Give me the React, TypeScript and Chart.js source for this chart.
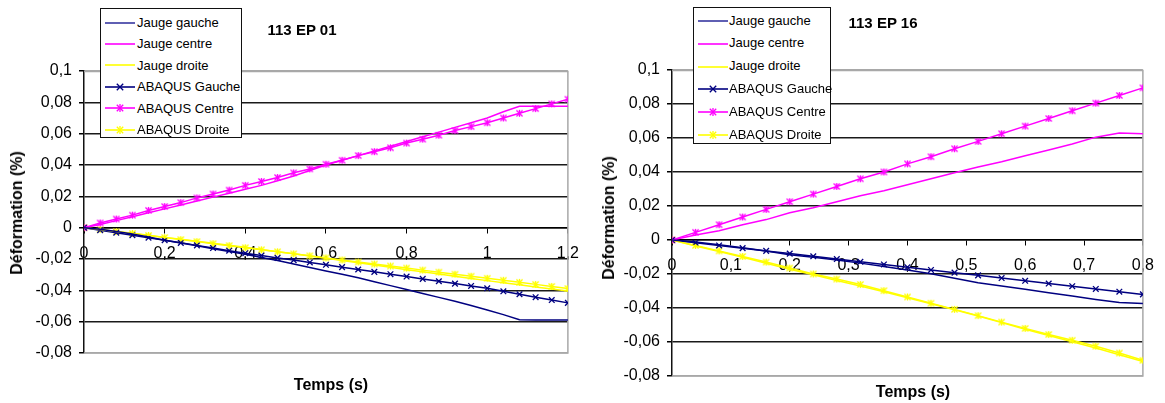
import React, { useEffect, useRef } from "react";
import { Chart, registerables } from "chart.js";
Chart.register(...registerables);

// ---------- data: 113 EP 01 ----------
const timeL = [0, 0.04, 0.08, 0.12, 0.16, 0.2, 0.24, 0.28, 0.32, 0.36, 0.4, 0.44, 0.48, 0.52, 0.56, 0.6, 0.64, 0.68, 0.72, 0.76, 0.8, 0.84, 0.88, 0.92, 0.96, 1.0, 1.04, 1.08, 1.12, 1.16, 1.2];
const jaugeGaucheL = [0, -0.001, -0.0025, -0.004, -0.006, -0.008, -0.0098, -0.0116, -0.0134, -0.0152, -0.017, -0.019, -0.021, -0.0232, -0.0254, -0.0276, -0.0298, -0.032, -0.0345, -0.037, -0.0395, -0.042, -0.0445, -0.047, -0.0497, -0.0525, -0.0555, -0.0588, -0.059, -0.059, -0.059];
const jaugeCentreL = [0, 0.002, 0.0045, 0.007, 0.0095, 0.012, 0.0145, 0.017, 0.0195, 0.022, 0.0245, 0.027, 0.03, 0.033, 0.0365, 0.04, 0.043, 0.046, 0.049, 0.052, 0.055, 0.058, 0.061, 0.064, 0.067, 0.07, 0.074, 0.0775, 0.0775, 0.0775, 0.0775];
const jaugeDroiteL = [0, -0.0012, -0.0024, -0.0036, -0.0049, -0.0062, -0.0074, -0.0087, -0.01, -0.0112, -0.0125, -0.0139, -0.0153, -0.0167, -0.0181, -0.0195, -0.0209, -0.0224, -0.0238, -0.0253, -0.0268, -0.0282, -0.0296, -0.031, -0.0324, -0.0338, -0.0351, -0.0365, -0.0378, -0.0392, -0.0405];
const abaqusGaucheL = [0, -0.0016, -0.0032, -0.0048, -0.0064, -0.008, -0.0097, -0.0113, -0.013, -0.0147, -0.0163, -0.0178, -0.0193, -0.0207, -0.0222, -0.0237, -0.0252, -0.0267, -0.0282, -0.0297, -0.0312, -0.0327, -0.0342, -0.0357, -0.0372, -0.0387, -0.0406, -0.0425, -0.0444, -0.0462, -0.048];
const abaqusCentreL = [0, 0.003, 0.0055, 0.008, 0.011, 0.0135, 0.016, 0.019, 0.0215, 0.024, 0.027, 0.0295, 0.032, 0.035, 0.0375, 0.0405, 0.043, 0.046, 0.0485, 0.051, 0.054, 0.0565, 0.059, 0.062, 0.0645, 0.067, 0.07, 0.073, 0.076, 0.079, 0.082];
const abaqusDroiteL = [0, -0.0012, -0.0025, -0.0037, -0.005, -0.0063, -0.0076, -0.0089, -0.0102, -0.0115, -0.0128, -0.0141, -0.0154, -0.0167, -0.018, -0.0193, -0.0206, -0.0219, -0.0232, -0.0245, -0.0258, -0.0271, -0.0284, -0.0297, -0.031, -0.0323, -0.0336, -0.0349, -0.0362, -0.0375, -0.0388];
const xTicksL = [0, 0.2, 0.4, 0.6, 0.8, 1.0, 1.2];

// ---------- data: 113 EP 16 ----------
const timeR = [0, 0.04, 0.08, 0.12, 0.16, 0.2, 0.24, 0.28, 0.32, 0.36, 0.4, 0.44, 0.48, 0.52, 0.56, 0.6, 0.64, 0.68, 0.72, 0.76, 0.8];
const jaugeGaucheR = [0, -0.0012, -0.0028, -0.0045, -0.0065, -0.0087, -0.0102, -0.0117, -0.0136, -0.0156, -0.0176, -0.0198, -0.0225, -0.0252, -0.027, -0.029, -0.031, -0.033, -0.035, -0.0368, -0.0373];
const jaugeCentreR = [0, 0.003, 0.0055, 0.009, 0.012, 0.016, 0.019, 0.0225, 0.026, 0.029, 0.0325, 0.036, 0.0395, 0.043, 0.046, 0.0495, 0.053, 0.0565, 0.0605, 0.063, 0.0625];
const jaugeDroiteR = [0, -0.0035, -0.0068, -0.0102, -0.0137, -0.0172, -0.0205, -0.0238, -0.027, -0.0305, -0.034, -0.0375, -0.041, -0.0447, -0.0486, -0.0525, -0.0562, -0.0598, -0.0635, -0.0675, -0.0715];
const abaqusGaucheR = [0, -0.0016, -0.0032, -0.0048, -0.0064, -0.008, -0.0096, -0.0112, -0.0128, -0.0144, -0.016, -0.0176, -0.0192, -0.0208, -0.0224, -0.024, -0.0256, -0.0272, -0.0288, -0.0304, -0.032];
const abaqusCentreR = [0, 0.0045, 0.009, 0.0135, 0.018, 0.0225, 0.027, 0.0315, 0.036, 0.04, 0.0448, 0.049, 0.0537, 0.058, 0.0625, 0.067, 0.0715, 0.076, 0.0805, 0.085, 0.0895];
const abaqusDroiteR = [0, -0.0032, -0.0064, -0.0097, -0.013, -0.0165, -0.02, -0.023, -0.0262, -0.0298, -0.0335, -0.0372, -0.0408, -0.0445, -0.0483, -0.052, -0.0556, -0.059, -0.0625, -0.0665, -0.0708];
const xTicksR = [0, 0.1, 0.2, 0.3, 0.4, 0.5, 0.6, 0.7, 0.8];

const yTicks = [-0.08, -0.06, -0.04, -0.02, 0, 0.02, 0.04, 0.06, 0.08, 0.1];
const seriesNames = ["Jauge gauche", "Jauge centre", "Jauge droite", "ABAQUS Gauche", "ABAQUS Centre", "ABAQUS Droite"];

const NAVY = "#000080";
const MAGENTA = "#ff00ff";
const YELLOW = "#ffff00";
const GRID = "#1a1a1a";
const BORDER_GRAY = "#a8a8a8";
const FONT = "'Liberation Sans', Arial, sans-serif";

const fmt = (v: number) => {
  const r = Math.round(v * 100) / 100;
  if (r === 0) return "0";
  return String(r).replace(".", ",");
};

function makeStar(color: string): HTMLCanvasElement {
  const size = 9;
  const c = document.createElement("canvas");
  c.width = size;
  c.height = size;
  const ctx = c.getContext("2d")!;
  ctx.strokeStyle = color;
  ctx.lineWidth = 1.3;
  const m = size / 2;
  const r = 3.6;
  const d = r * 0.85;
  ctx.beginPath();
  ctx.moveTo(m - d, m - d);
  ctx.lineTo(m + d, m + d);
  ctx.moveTo(m + d, m - d);
  ctx.lineTo(m - d, m + d);
  ctx.moveTo(m, m - r);
  ctx.lineTo(m, m + r);
  ctx.stroke();
  return c;
}

const borderPlugin = {
  id: "plotBorder",
  beforeDatasetsDraw(chart: any) {
    const { ctx, chartArea } = chart;
    ctx.save();
    ctx.strokeStyle = BORDER_GRAY;
    ctx.lineWidth = 1.5;
    ctx.beginPath();
    ctx.moveTo(chartArea.left, chartArea.top + 0.5);
    ctx.lineTo(chartArea.right, chartArea.top + 0.5);
    ctx.lineTo(chartArea.right, chartArea.bottom);
    ctx.lineTo(chartArea.left, chartArea.bottom);
    ctx.stroke();
    ctx.restore();
  },
};

type PanelProps = {
  left: number;
  width: number;
  yWidth: number;
  pad: { top: number; right: number; bottom: number };
  time: number[];
  series: number[][];
  xMax: number;
  xTicks: number[];
  xPad: number;
};

function Panel(p: PanelProps) {
  const ref = useRef<HTMLCanvasElement>(null);
  useEffect(() => {
    if (!ref.current) return;
    const colors = [NAVY, MAGENTA, YELLOW, NAVY, MAGENTA, YELLOW];
    const datasets = p.series.map((vals, i) => {
      const isAbaqus = i >= 3;
      let pointStyle: any = false;
      if (i === 3) pointStyle = "crossRot";
      if (i === 4) pointStyle = makeStar(MAGENTA);
      if (i === 5) pointStyle = makeStar(YELLOW);
      return {
        label: seriesNames[i],
        data: p.time.map((t, k) => ({ x: t, y: vals[k] })),
        borderColor: colors[i],
        backgroundColor: colors[i],
        borderWidth: 1.5,
        pointStyle,
        pointRadius: isAbaqus ? 4 : 0,
        pointBorderWidth: 1.3,
        pointBorderColor: colors[i],
        tension: 0,
      };
    });
    const chart = new Chart(ref.current, {
      type: "line",
      data: { datasets },
      plugins: [borderPlugin],
      options: {
        animation: false,
        responsive: false,
        devicePixelRatio: 1,
        layout: { padding: { left: 0, top: p.pad.top, right: p.pad.right, bottom: p.pad.bottom } },
        plugins: { legend: { display: false }, tooltip: { enabled: false }, title: { display: false } },
        scales: {
          x: {
            type: "linear",
            position: { y: 0 } as any,
            min: 0,
            max: p.xMax,
            afterBuildTicks: (s: any) => {
              s.ticks = p.xTicks.map((v) => ({ value: v }));
            },
            ticks: {
              callback: (v: any) => fmt(Number(v)),
              color: "#000",
              font: { family: FONT, size: 16 },
              padding: p.xPad,
              maxRotation: 0,
              autoSkip: false,
            },
            grid: { drawOnChartArea: false, drawTicks: true, tickLength: 5, tickColor: "#000", color: "#000" },
            border: { display: true, color: "#000", width: 1.5 },
          },
          y: {
            type: "linear",
            position: "left",
            min: -0.08,
            max: 0.1,
            afterBuildTicks: (s: any) => {
              s.ticks = yTicks.map((v) => ({ value: v }));
            },
            afterFit: (s: any) => {
              s.width = p.yWidth;
            },
            ticks: {
              callback: (v: any) => fmt(Number(v)),
              color: "#000",
              font: { family: FONT, size: 16 },
              padding: 7,
            },
            grid: {
              color: (c: any) => (c.index === 0 || c.index === yTicks.length - 1 ? BORDER_GRAY : GRID),
              lineWidth: 1.5,
              tickLength: 5,
              tickColor: "#000",
            },
            border: { display: true, color: "#111", width: 1.5 },
          },
        },
      } as any,
    });
    return () => chart.destroy();
  }, []);
  return (
    <canvas
      ref={ref}
      width={p.width}
      height={403}
      style={{ position: "absolute", left: p.left, top: 0, width: p.width, height: 403 }}
    />
  );
}

function LegendMarker({ i }: { i: number }) {
  const colors = [NAVY, MAGENTA, YELLOW, NAVY, MAGENTA, YELLOW];
  const c = colors[i];
  const cx = 15, cy = 5, d = 3.2;
  return (
    <svg width={30} height={10} style={{ display: "block" }}>
      <line x1={0} y1={cy} x2={30} y2={cy} stroke={i === 0 ? "#3838a0" : c} strokeWidth={1.6} />
      {i >= 3 && (
        <g stroke={c} strokeWidth={1.3}>
          <line x1={cx - d} y1={cy - d} x2={cx + d} y2={cy + d} />
          <line x1={cx + d} y1={cy - d} x2={cx - d} y2={cy + d} />
          {i >= 4 && <line x1={cx} y1={cy - 4} x2={cx} y2={cy + 4} />}
        </g>
      )}
    </svg>
  );
}

function Legend({ left, top, width, height, rowH, padTop, lineX, textX }: any) {
  return (
    <div
      style={{
        position: "absolute",
        left,
        top,
        width,
        height,
        boxSizing: "border-box",
        border: "1px solid #111",
        background: "#fff",
        fontFamily: FONT,
        fontSize: 13,
        color: "#000",
        paddingTop: padTop,
      }}
    >
      {seriesNames.map((n, i) => (
        <div key={n} style={{ position: "relative", height: rowH }}>
          <div style={{ position: "absolute", left: lineX, top: rowH / 2 - 5 }}>
            <LegendMarker i={i} />
          </div>
          <div style={{ position: "absolute", left: textX, top: 0, lineHeight: rowH + "px", whiteSpace: "nowrap" }}>{n}</div>
        </div>
      ))}
    </div>
  );
}

function Label({ x, y, text, size, bold, rotate }: any) {
  return (
    <div
      style={{
        position: "absolute",
        left: x,
        top: y,
        transform: `translate(-50%, -50%)${rotate ? " rotate(-90deg)" : ""}`,
        fontFamily: FONT,
        fontSize: size,
        fontWeight: bold ? "bold" : "normal",
        whiteSpace: "nowrap",
        color: "#000",
        lineHeight: 1,
      }}
    >
      {text}
    </div>
  );
}

export default function App() {
  return (
    <div style={{ position: "absolute", left: 0, top: 0, width: 1165, height: 403, background: "#fff", overflow: "hidden" }}>
      <Panel
        left={0}
        width={590}
        yWidth={84}
        pad={{ top: 71, right: 13, bottom: 50 }}
        time={timeL}
        series={[jaugeGaucheL, jaugeCentreL, jaugeDroiteL, abaqusGaucheL, abaqusCentreL, abaqusDroiteL]}
        xMax={1.2}
        xTicks={xTicksL}
        xPad={11}
      />
      <Panel
        left={590}
        width={575}
        yWidth={82}
        pad={{ top: 70, right: 12, bottom: 27 }}
        time={timeR}
        series={[jaugeGaucheR, jaugeCentreR, jaugeDroiteR, abaqusGaucheR, abaqusCentreR, abaqusDroiteR]}
        xMax={0.8}
        xTicks={xTicksR}
        xPad={11}
      />
      <Legend left={100} top={8} width={142} height={130} rowH={21.4} padTop={3} lineX={4} textX={36} />
      <Legend left={693} top={7} width={138} height={137} rowH={22.8} padTop={1.6} lineX={4} textX={35} />
      <Label x={302} y={29} text="113 EP 01" size={15} bold />
      <Label x={883} y={22} text="113 EP 16" size={15} bold />
      <Label x={17} y={213} text="Déformation (%)" size={16} bold rotate />
      <Label x={609} y={218} text="Déformation (%)" size={16} bold rotate />
      <Label x={331} y={385} text="Temps (s)" size={16} bold />
      <Label x={913} y={392} text="Temps (s)" size={16} bold />
    </div>
  );
}
